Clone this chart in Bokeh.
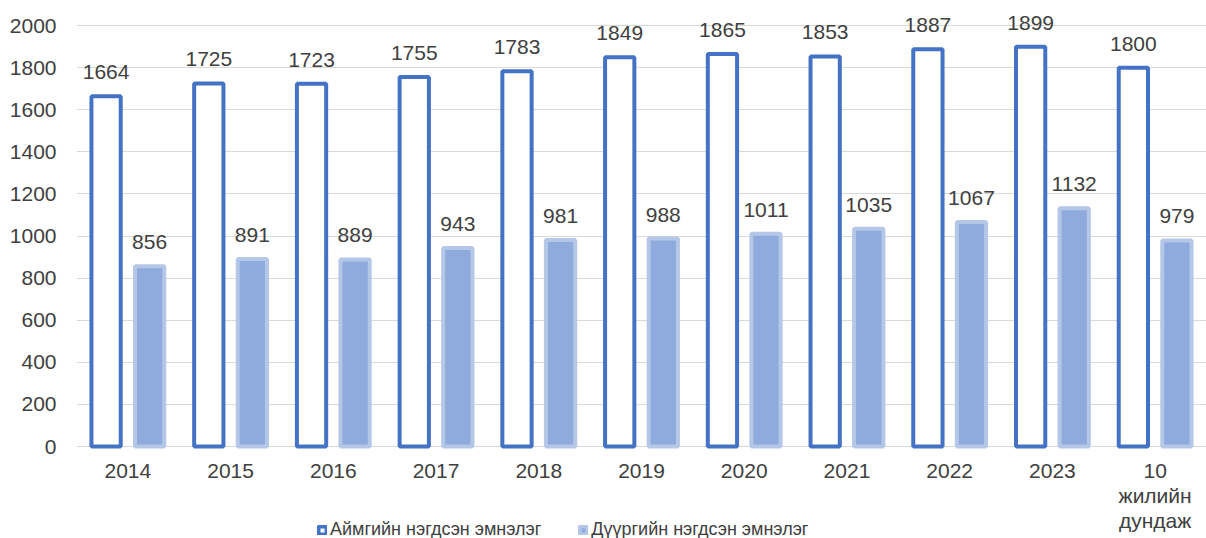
from bokeh.plotting import figure
from bokeh.models import FactorRange, Range1d, Legend, LegendItem, FixedTicker, ColumnDataSource
from bokeh.transform import dodge
from bokeh.embed import file_html
from bokeh.resources import INLINE
from bokeh.core.properties import value

categories = ["2014", "2015", "2016", "2017", "2018", "2019", "2020", "2021", "2022", "2023",
              "10\nжилийн\nдундаж"]
aimag = [1664, 1725, 1723, 1755, 1783, 1849, 1865, 1853, 1887, 1899, 1800]
duureg = [856, 891, 889, 943, 981, 988, 1011, 1035, 1067, 1132, 979]
y_ticks = [0, 200, 400, 600, 800, 1000, 1200, 1400, 1600, 1800, 2000]
series_names = ["Аймгийн нэгдсэн эмнэлэг", "Дүүргийн нэгдсэн эмнэлэг"]

FONT = "Liberation Sans"
TXT = "#404040"
FS = "21px"

source = ColumnDataSource(dict(
    cat=categories, aimag=aimag, duureg=duureg,
    aimag_t=[str(v) for v in aimag], duureg_t=[str(v) for v in duureg],
))

p = figure(
    x_range=FactorRange(factors=categories),
    y_range=Range1d(-437, 2062),
    frame_width=1130, frame_height=526,
    min_border_left=76, min_border_right=0, min_border_top=12, min_border_bottom=0,
    output_backend="svg", toolbar_location=None,
)
p.outline_line_color = None
p.background_fill_color = "white"

off = 0.212
bw = 0.285
r1 = p.vbar(x=dodge("cat", -off, range=p.x_range), top="aimag", width=bw, bottom=0,
            source=source, fill_color="white", line_color="#4472C4", line_width=4)
r2 = p.vbar(x=dodge("cat", off, range=p.x_range), top="duureg", width=bw, bottom=0,
            source=source, fill_color="#8FAADC", line_color="#B4C7E7", line_width=4)

p.text(x=dodge("cat", -off, range=p.x_range), y="aimag", text="aimag_t", source=source,
       text_align="center", text_baseline="alphabetic", y_offset=-24,
       text_font=value(FONT), text_font_size=FS, text_color=TXT)
p.text(x=dodge("cat", off, range=p.x_range), y="duureg", text="duureg_t", source=source,
       text_align="center", text_baseline="alphabetic", y_offset=-24,
       text_font=value(FONT), text_font_size=FS, text_color=TXT)

yt = FixedTicker(ticks=y_ticks)
p.yaxis.ticker = yt
p.ygrid.ticker = yt
p.yaxis.axis_line_color = None
p.yaxis.major_tick_line_color = None
p.yaxis.minor_tick_line_color = None
p.yaxis.major_tick_out = 0
p.yaxis.major_label_standoff = 20
p.yaxis.major_label_text_font = FONT
p.yaxis.major_label_text_font_size = FS
p.yaxis.major_label_text_color = TXT

p.xaxis.fixed_location = 0
p.xaxis.axis_line_color = None
p.xaxis.major_tick_line_color = None
p.xaxis.minor_tick_line_color = None
p.xaxis.major_tick_out = 0
p.xaxis.major_label_standoff = 12
p.xaxis.major_label_text_font = FONT
p.xaxis.major_label_text_font_size = FS
p.xaxis.major_label_text_line_height = 1.1
p.xaxis.major_label_text_color = TXT

p.xgrid.grid_line_color = None
p.ygrid.grid_line_color = "#D9D9D9"
p.ygrid.grid_line_width = 1

legend = Legend(
    items=[LegendItem(label=series_names[0], renderers=[r1]),
           LegendItem(label=series_names[1], renderers=[r2])],
    location=(241, -2), orientation="horizontal",
)
legend.background_fill_alpha = 0
legend.border_line_color = None
legend.padding = 0
legend.margin = 0
legend.spacing = 37
legend.glyph_width = 10
legend.glyph_height = 10
legend.label_standoff = 3
legend.label_height = 20
legend.label_text_font = FONT
legend.label_text_font_size = "18px"
legend.label_text_color = TXT
p.add_layout(legend)

open("out.html", "w").write(file_html(p, INLINE))
